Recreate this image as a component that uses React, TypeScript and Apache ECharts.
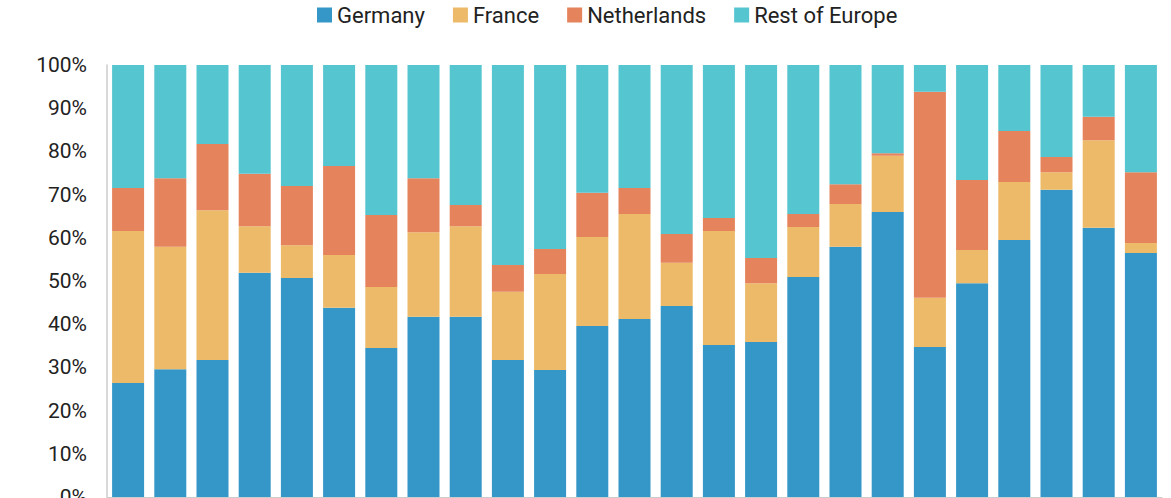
import React, { useEffect, useRef } from 'react';
import * as echarts from 'echarts';

// 25 periods, x-axis labels are cropped out of the reference
const categories = Array.from({ length: 25 }, (_, i) => `P${i + 1}`);

const seriesNames = ['Germany', 'France', 'Netherlands', 'Rest of Europe'];

const germany = [26.4, 29.6, 31.7, 51.9, 50.7, 43.8, 34.5, 41.7, 41.7, 31.7, 29.4, 39.6, 41.2, 44.2, 35.2, 35.9, 50.9, 57.9, 66.0, 34.7, 49.5, 59.5, 71.1, 62.3, 56.5];
const france = [35.2, 28.3, 34.7, 10.8, 7.6, 12.2, 14.1, 19.6, 21.0, 15.8, 22.2, 20.6, 24.3, 10.0, 26.4, 13.6, 11.6, 9.9, 13.0, 11.4, 7.7, 13.4, 4.1, 20.3, 2.3];
const netherlands = [9.9, 15.9, 15.3, 12.1, 13.7, 20.6, 16.7, 12.5, 4.9, 6.2, 5.8, 10.2, 6.0, 6.7, 3.0, 5.8, 3.0, 4.6, 0.6, 47.7, 16.2, 11.8, 3.5, 5.4, 16.4];
const restOfEurope = [28.5, 26.2, 18.3, 25.2, 28.0, 23.4, 34.7, 26.2, 32.4, 46.3, 42.6, 29.6, 28.5, 39.1, 35.4, 44.7, 34.5, 27.6, 20.4, 6.2, 26.6, 15.3, 21.3, 12.0, 24.8];

const colors = ['#3596c8', '#ecba69', '#e5835d', '#55c5d0'];

const App: React.FC = () => {
  const chartRef = useRef<HTMLDivElement>(null);

  useEffect(() => {
    if (!chartRef.current) return;
    const chart = echarts.init(chartRef.current, undefined, { renderer: 'svg' });

    const values = [germany, france, netherlands, restOfEurope];

    const option: any = {
      animation: false,
      color: colors,
      textStyle: { fontFamily: 'Roboto' },
      legend: {
        left: 317,
        top: 4,
        padding: 0,
        itemWidth: 15,
        itemHeight: 15,
        itemGap: 28,
        icon: 'rect',
        data: seriesNames,
        textStyle: { fontSize: 22, color: '#222', fontFamily: 'Roboto' }
      },
      grid: {
        left: 107,
        right: 9,
        top: 65,
        bottom: 1,
        containLabel: false,
        // the 0% label is cut by the bottom edge in the reference
        outerBoundsMode: 'none'
      },
      xAxis: {
        type: 'category',
        data: categories,
        axisLine: { show: true, lineStyle: { color: '#cccccc' } },
        axisTick: { show: false },
        axisLabel: { show: false }
      },
      yAxis: {
        type: 'value',
        min: 0,
        max: 100,
        interval: 10,
        axisLine: { show: true, lineStyle: { color: '#cccccc', width: 1.5 } },
        axisTick: { show: false },
        splitLine: { show: false },
        axisLabel: {
          fontSize: 21,
          color: '#222',
          margin: 20,
          fontFamily: 'Roboto',
          formatter: (v: number) => `${v}%`
        }
      },
      series: seriesNames.map((name, i) => ({
        name,
        type: 'bar',
        stack: 'total',
        barWidth: 32,
        data: values[i]
      }))
    };

    chart.setOption(option);
    return () => {
      chart.dispose();
    };
  }, []);

  return (
    <div
      ref={chartRef}
      style={{ position: 'absolute', left: 0, top: 0, width: '1171px', height: '498px', background: '#fff' }}
    />
  );
};

export default App;
